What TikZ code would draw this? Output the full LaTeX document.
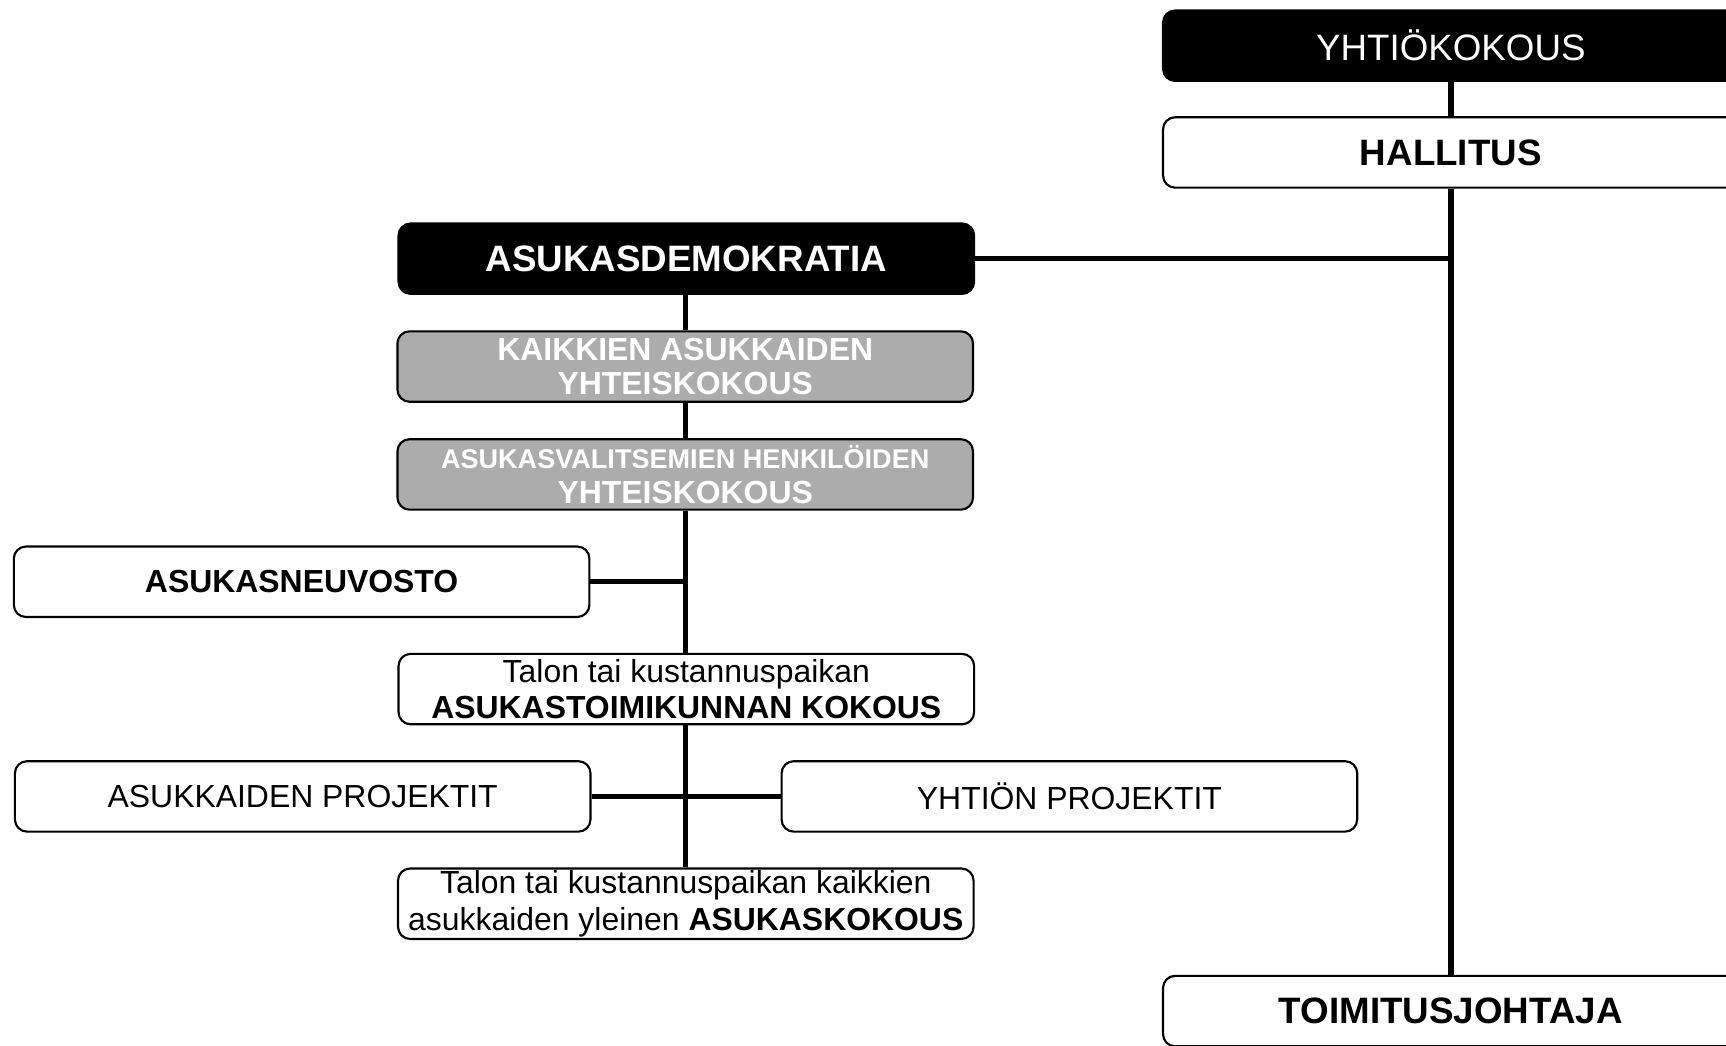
\documentclass[tikz,border=0pt]{standalone}
\usepackage{fontspec}
\setmainfont{Liberation Sans}
\tikzset{
  box/.style={draw, line width=1.1pt, rounded corners=0.22cm, minimum width=10.46cm,
    minimum height=1.28cm, inner sep=0pt, align=center, fill=white,
    font=\fontsize{16.5}{19}\selectfont},
  bigbox/.style={box, font=\fontsize{19}{22}\selectfont},
  darkbox/.style={bigbox, fill=black, text=white},
  greybox/.style={box, fill=gray!65, text=white, font=\fontsize{16.5}{18}\selectfont\bfseries},
  link/.style={line width=2.8pt}
}
\begin{document}
\begin{tikzpicture}[x=0.02cm, y=-0.02cm]
\useasboundingbox (0,0) rectangle (1568,950);
\clip (0,0) rectangle (1568,950);

% company side
\node[darkbox] (yhtio) at (1318,41.5) {YHTIÖKOKOUS};
\node[bigbox] (hallitus) at (1318,138.5) {\bfseries HALLITUS};
\node[bigbox, font=\fontsize{19}{22}\selectfont] (tj) at (1318,918.5) {\bfseries TOIMITUSJOHTAJA};

% residents' side
\node[darkbox] (demokratia) at (623.5,235) {\bfseries ASUKASDEMOKRATIA};
\node[greybox] (kaikki) at (622.5,333) {KAIKKIEN ASUKKAIDEN\\YHTEISKOKOUS};
\node[greybox] (valitut) at (622.5,431) {{\fontsize{14}{18}\selectfont ASUKASVALITSEMIEN HENKILÖIDEN}\\YHTEISKOKOUS};
\node[box] (neuvosto) at (274,528.5) {\bfseries ASUKASNEUVOSTO};
\node[box] (toimikunta) at (623.5,626) {Talon tai kustannuspaikan\\\bfseries ASUKASTOIMIKUNNAN KOKOUS};
\node[box] (asprojektit) at (275,723.5) {ASUKKAIDEN PROJEKTIT};
\node[box] (ytprojektit) at (971.5,723.5) {YHTIÖN PROJEKTIT};
\node[box] (asukaskokous) at (623,821) {Talon tai kustannuspaikan kaikkien\\asukkaiden yleinen \textbf{ASUKASKOKOUS}};

% connectors
\draw[link] (yhtio) to (hallitus);
\draw[link] (hallitus) to (tj);
\draw[link] (demokratia.east) to (demokratia.east -| hallitus);
\draw[link] (demokratia.south -| kaikki) to (kaikki);
\draw[link] (kaikki) to (valitut);
\draw[link] (valitut) to (toimikunta.north -| valitut);
\draw[link] (neuvosto.east) to (neuvosto.east -| valitut);
\draw[link] (toimikunta.south -| valitut) to (asukaskokous.north -| valitut);
\draw[link] (asprojektit.east) to (ytprojektit.west);
\end{tikzpicture}
\end{document}
